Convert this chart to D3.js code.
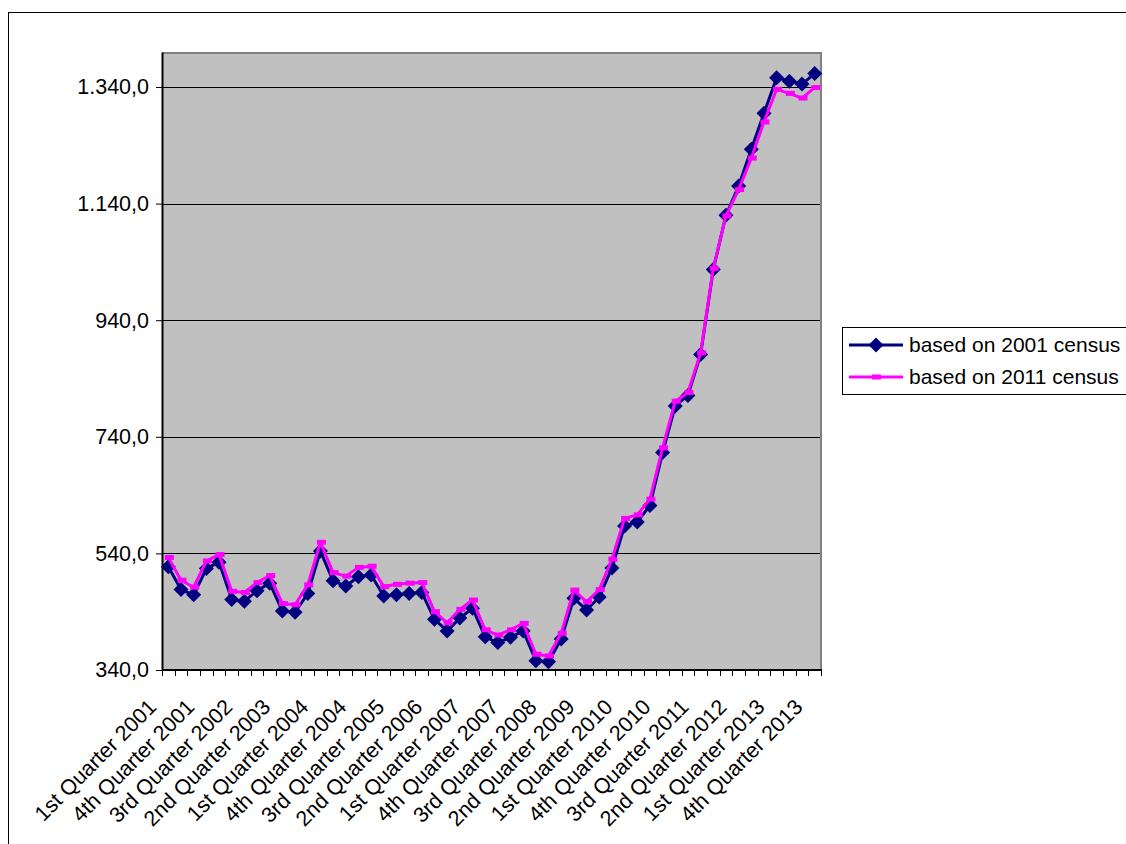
<!DOCTYPE html>
<html>
<head>
<meta charset="utf-8">
<script src="https://cdn.jsdelivr.net/npm/d3@7"></script>
<style>
  html, body { margin: 0; padding: 0; background: #fff; }
  svg { display: block; }
  text { font-family: "Liberation Sans", Arial, sans-serif; fill: #000; }
</style>
</head>
<body>
<svg id="chart" width="1126" height="844"></svg>
<script>
// ---- Data ----
const ordinals = ["1st", "2nd", "3rd", "4th"];
const years = [2001, 2002, 2003, 2004, 2005, 2006, 2007, 2008, 2009, 2010, 2011, 2012, 2013];
const quarters = [];
years.forEach(y => ordinals.forEach(o => quarters.push(o + " Quarter " + y)));

const census2001 = [
  517, 478, 469, 514, 525, 461, 458, 476, 489, 441, 439, 471,
  544, 493, 484, 500, 503, 467, 469, 471, 473, 427, 407, 429,
  446, 397, 387, 396, 407, 356, 354, 393, 463, 443, 465, 515,
  587, 594, 622, 713, 793, 811, 881, 1027, 1120, 1170, 1233, 1295,
  1356, 1350, 1345, 1363
];
const census2011 = [
  533, 494, 482, 527, 538, 475, 473, 490, 502, 454, 452, 486,
  559, 507, 501, 516, 518, 483, 487, 489, 490, 440, 421, 444,
  460, 409, 400, 409, 420, 367, 364, 403, 477, 457, 478, 530,
  600, 606, 633, 721, 801, 816, 884, 1029, 1119, 1164, 1218, 1280,
  1336, 1329, 1321, 1339
];
const seriesNames = ["based on 2001 census", "based on 2011 census"];
const yTicks = [340, 540, 740, 940, 1140, 1340];
const yDomain = [340, 1400];
const labelEvery = 3;

// ---- Layout ----
const svg = d3.select("#chart");
const plot = { left: 162, top: 52, right: 821, bottom: 670 };
const FS = 21.5;

// outer chart frame
svg.append("rect")
  .attr("x", 8.5).attr("y", 12.5)
  .attr("width", 1200).attr("height", 900)
  .attr("fill", "#fff").attr("stroke", "#000").attr("stroke-width", 1);

const x = d3.scaleBand().domain(quarters).range([plot.left, plot.right]).paddingInner(0).paddingOuter(0);
const y = d3.scaleLinear().domain(yDomain).range([plot.bottom, plot.top]);
const cx = q => x(q) + x.bandwidth() / 2;

// plot background
svg.append("rect")
  .attr("x", plot.left).attr("y", plot.top)
  .attr("width", plot.right - plot.left).attr("height", plot.bottom - plot.top)
  .attr("fill", "#c0c0c0");

// gridlines
svg.append("g").selectAll("line").data(yTicks).join("line")
  .attr("x1", plot.left).attr("x2", plot.right)
  .attr("y1", d => Math.round(y(d)) + 0.5).attr("y2", d => Math.round(y(d)) + 0.5)
  .attr("stroke", "#000").attr("stroke-width", 1);

// plot border top/right (grey)
svg.append("path")
  .attr("d", `M${plot.left},${plot.top + 1}H${plot.right}V${plot.bottom}`)
  .attr("fill", "none").attr("stroke", "#808080").attr("stroke-width", 2);

// Y axis
const yAxis = d3.axisLeft(y).tickValues(yTicks).tickSizeInner(6).tickSizeOuter(0).tickPadding(7)
  .tickFormat(d => d3.format(",.1f")(d).replace(/,/g, "#").replace(".", ",").replace(/#/g, "."));
const gy = svg.append("g").attr("transform", `translate(${plot.left},0)`).call(yAxis);
gy.select(".domain").attr("stroke", "#000").attr("stroke-width", 2);
gy.selectAll(".tick line").attr("stroke", "#000");
gy.selectAll(".tick text")
  .attr("font-size", FS)
  .attr("font-family", "Liberation Sans, Arial, sans-serif").attr("fill", "#000");

// X axis (ticks at band boundaries)
const xAxisG = svg.append("g");
xAxisG.append("line")
  .attr("x1", plot.left).attr("x2", plot.right + 1)
  .attr("y1", plot.bottom).attr("y2", plot.bottom)
  .attr("stroke", "#000").attr("stroke-width", 2);
const boundaries = d3.range(quarters.length + 1).map(i => plot.left + i * x.bandwidth());
xAxisG.selectAll("line.tk").data(boundaries).join("line")
  .attr("class", "tk")
  .attr("x1", d => Math.round(d) + 0.5).attr("x2", d => Math.round(d) + 0.5)
  .attr("y1", plot.bottom).attr("y2", plot.bottom + 6)
  .attr("stroke", "#000").attr("stroke-width", 1);

const labelData = quarters.filter((q, i) => i % labelEvery === 0);
xAxisG.selectAll("text").data(labelData).join("text")
  .attr("transform", d => `translate(${cx(d) - 16},${plot.bottom + 33}) rotate(-45)`)
  .attr("text-anchor", "end").attr("dy", "0.35em")
  .attr("font-size", FS)
  .text(d => d);

// Lines
const line = d3.line().x((d, i) => cx(quarters[i])).y(d => y(d));
const diamond = s => `M0,${-s}L${s},0L0,${s}L${-s},0Z`;

svg.append("path").datum(census2001)
  .attr("d", line).attr("fill", "none")
  .attr("stroke", "#000080").attr("stroke-width", 3).attr("stroke-linejoin", "round");
svg.append("g").selectAll("path").data(census2001).join("path")
  .attr("transform", (d, i) => `translate(${cx(quarters[i])},${y(d)})`)
  .attr("d", diamond(7.5)).attr("fill", "#000080");

svg.append("path").datum(census2011)
  .attr("d", line).attr("fill", "none")
  .attr("stroke", "#ff00ff").attr("stroke-width", 3).attr("stroke-linejoin", "round");
svg.append("g").selectAll("rect").data(census2011).join("rect")
  .attr("x", (d, i) => cx(quarters[i]) - 3.5).attr("y", d => y(d) - 2.5)
  .attr("width", 9).attr("height", 5).attr("fill", "#ff00ff");

// Legend
const lg = svg.append("g");
lg.append("rect")
  .attr("x", 842.5).attr("y", 327.5).attr("width", 400).attr("height", 67)
  .attr("fill", "#fff").attr("stroke", "#000").attr("stroke-width", 1);
const rows = [
  { name: seriesNames[0], color: "#000080", y: 345, marker: "diamond" },
  { name: seriesNames[1], color: "#ff00ff", y: 377, marker: "dash" }
];
rows.forEach(r => {
  lg.append("line").attr("x1", 849).attr("x2", 903).attr("y1", r.y).attr("y2", r.y)
    .attr("stroke", r.color).attr("stroke-width", 3);
  if (r.marker === "diamond") {
    lg.append("path").attr("transform", `translate(876,${r.y})`).attr("d", diamond(7.5)).attr("fill", r.color);
  } else {
    lg.append("rect").attr("x", 872).attr("y", r.y - 2.5).attr("width", 9).attr("height", 5).attr("fill", r.color);
  }
  lg.append("text").attr("x", 909).attr("y", r.y).attr("dy", "0.35em")
    .attr("font-size", 21).text(r.name);
});
</script>
</body>
</html>
